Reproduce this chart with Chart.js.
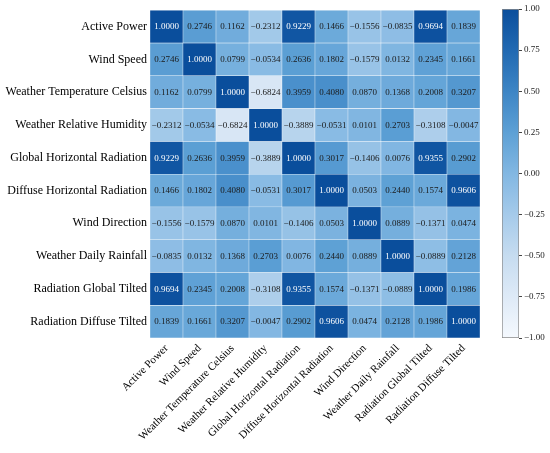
<!DOCTYPE html>
<html><head><meta charset="utf-8">
<script src="https://cdn.jsdelivr.net/npm/chart.js@4.4.1/dist/chart.umd.min.js"></script>
<style>
html,body{margin:0;padding:0;background:#fff;}
#wrap{position:relative;width:550px;height:453px;overflow:hidden;}
#main{position:absolute;left:0;top:0;}
#cbar{position:absolute;left:490px;top:0;}
</style></head><body>
<div id="wrap"><canvas id="main" width="550" height="453"></canvas><canvas id="cbar" width="60" height="453"></canvas></div>
<script>
const variables = ["Active Power","Wind Speed","Weather Temperature Celsius","Weather Relative Humidity","Global Horizontal Radiation","Diffuse Horizontal Radiation","Wind Direction","Weather Daily Rainfall","Radiation Global Tilted","Radiation Diffuse Tilted"];

const activePower      = [1.0000, 0.2746, 0.1162, -0.2312, 0.9229, 0.1466, -0.1556, -0.0835, 0.9694, 0.1839];
const windSpeed        = [0.2746, 1.0000, 0.0799, -0.0534, 0.2636, 0.1802, -0.1579, 0.0132, 0.2345, 0.1661];
const weatherTemp      = [0.1162, 0.0799, 1.0000, -0.6824, 0.3959, 0.4080, 0.0870, 0.1368, 0.2008, 0.3207];
const humidity         = [-0.2312, -0.0534, -0.6824, 1.0000, -0.3889, -0.0531, 0.0101, 0.2703, -0.3108, -0.0047];
const globalHorizontal = [0.9229, 0.2636, 0.3959, -0.3889, 1.0000, 0.3017, -0.1406, 0.0076, 0.9355, 0.2902];
const diffuseHorizontal= [0.1466, 0.1802, 0.4080, -0.0531, 0.3017, 1.0000, 0.0503, 0.2440, 0.1574, 0.9606];
const windDirection    = [-0.1556, -0.1579, 0.0870, 0.0101, -0.1406, 0.0503, 1.0000, 0.0889, -0.1371, 0.0474];
const dailyRainfall    = [-0.0835, 0.0132, 0.1368, 0.2703, 0.0076, 0.2440, 0.0889, 1.0000, -0.0889, 0.2128];
const globalTilted     = [0.9694, 0.2345, 0.2008, -0.3108, 0.9355, 0.1574, -0.1371, -0.0889, 1.0000, 0.1986];
const diffuseTilted    = [0.1839, 0.1661, 0.3207, -0.0047, 0.2902, 0.9606, 0.0474, 0.2128, 0.1986, 1.0000];

const matrix = [activePower, windSpeed, weatherTemp, humidity, globalHorizontal, diffuseHorizontal, windDirection, dailyRainfall, globalTilted, diffuseTilted];
const colorbarTicks = [1.00, 0.75, 0.50, 0.25, 0.00, -0.25, -0.50, -0.75, -1.00];

const FONT = '"Liberation Serif", "Times New Roman", serif';
const stops = [
  [-1.00, [245,249,254]],
  [-0.75, [222,234,247]],
  [-0.50, [198,220,240]],
  [-0.25, [165,202,234]],
  [ 0.00, [130,183,226]],
  [ 0.25, [ 93,160,213]],
  [ 0.50, [ 61,133,197]],
  [ 0.75, [ 33,105,178]],
  [ 1.00, [ 10, 78,156]]
];
function colorFor(v){
  v = Math.max(-1, Math.min(1, v));
  for (let i = 0; i < stops.length - 1; i++){
    const [a, ca] = stops[i], [b, cb] = stops[i+1];
    if (v >= a && v <= b){
      const t = (v - a) / (b - a);
      const c = ca.map((x, k) => Math.round(x + (cb[k] - x) * t));
      return `rgb(${c[0]},${c[1]},${c[2]})`;
    }
  }
  return 'rgb(10,78,156)';
}
function fmt(v, d){
  const s = Math.abs(v).toFixed(d);
  return (v < 0 && Number(s) !== 0 ? '\u2212' : '') + s;
}

const cellText = {
  id: 'cellText',
  afterDatasetsDraw(chart){
    const ctx = chart.ctx;
    ctx.save();
    ctx.font = '9px ' + FONT;
    ctx.textAlign = 'center';
    ctx.textBaseline = 'middle';
    chart.data.datasets.forEach((ds, di) => {
      const meta = chart.getDatasetMeta(di);
      meta.data.forEach((el, i) => {
        const v = ds.values[i];
        const p = el.getProps(['x','y','base'], true);
        ctx.fillStyle = v > 0.9 ? '#ffffff' : '#1a1a1a';
        ctx.fillText(fmt(v, 4), p.x, (p.y + p.base) / 2 + 0.5);
      });
    });
    ctx.restore();
  }
};

const datasets = matrix.map((row, r) => ({
  label: variables[r],
  data: row.map(() => [r - 0.5, r + 0.5]),
  values: row,
  backgroundColor: row.map(v => colorFor(v)),
  borderColor: 'rgba(255,255,255,0.7)',
  borderWidth: 0.5,
  borderSkipped: false,
  grouped: false,
  barPercentage: 1,
  categoryPercentage: 1
}));

new Chart(document.getElementById('main'), {
  type: 'bar',
  data: { labels: variables, datasets },
  options: {
    responsive: false,
    animation: false,
    devicePixelRatio: 1,
    layout: { padding: { left: 0, top: 9, right: 70, bottom: 0 } },
    plugins: { legend: { display: false }, tooltip: { enabled: false } },
    scales: {
      x: {
        type: 'category',
        grid: { display: false, drawTicks: false },
        border: { display: false },
        ticks: { autoSkip: false, maxRotation: 45, minRotation: 45, padding: 4, color: '#000', font: { family: FONT, size: 11 } },
        afterFit: a => { a.height = 115; }
      },
      y: {
        type: 'linear',
        min: -0.5, max: 9.5, reverse: true,
        grid: { display: false, drawTicks: false },
        border: { display: false },
        afterBuildTicks: a => { a.ticks = variables.map((_, i) => ({ value: i })); },
        ticks: { autoSkip: false, padding: 3, color: '#000', font: { family: FONT, size: 12 }, callback: v => variables[v] },
        afterFit: a => { a.width = 150; }
      }
    }
  },
  plugins: [cellText]
});

new Chart(document.getElementById('cbar'), {
  type: 'bar',
  data: {
    labels: ['r'],
    datasets: [{
      data: [[-1, 1]],
      backgroundColor: (c) => {
        const ca = c.chart.chartArea;
        if (!ca) return colorFor(0);
        const g = c.chart.ctx.createLinearGradient(0, ca.bottom, 0, ca.top);
        stops.forEach(([v, col]) => g.addColorStop((v + 1) / 2, `rgb(${col[0]},${col[1]},${col[2]})`));
        return g;
      },
      borderColor: '#8a8a8a',
      borderWidth: 1,
      borderSkipped: false,
      barPercentage: 1,
      categoryPercentage: 1
    }]
  },
  options: {
    responsive: false,
    animation: false,
    devicePixelRatio: 1,
    layout: { padding: { left: 12, top: 9, right: 0, bottom: 115 } },
    plugins: { legend: { display: false }, tooltip: { enabled: false } },
    scales: {
      x: { display: false },
      y: {
        position: 'right',
        min: -1, max: 1,
        afterBuildTicks: a => { a.ticks = colorbarTicks.map(v => ({ value: v })); },
        grid: { drawOnChartArea: false, tickLength: 3, color: '#444' },
        border: { display: false },
        ticks: { padding: 2, color: '#222', font: { family: FONT, size: 9 }, callback: v => fmt(v, 2) },
        afterFit: a => { a.width = 31; }
      }
    }
  }
});
</script>
</body></html>
